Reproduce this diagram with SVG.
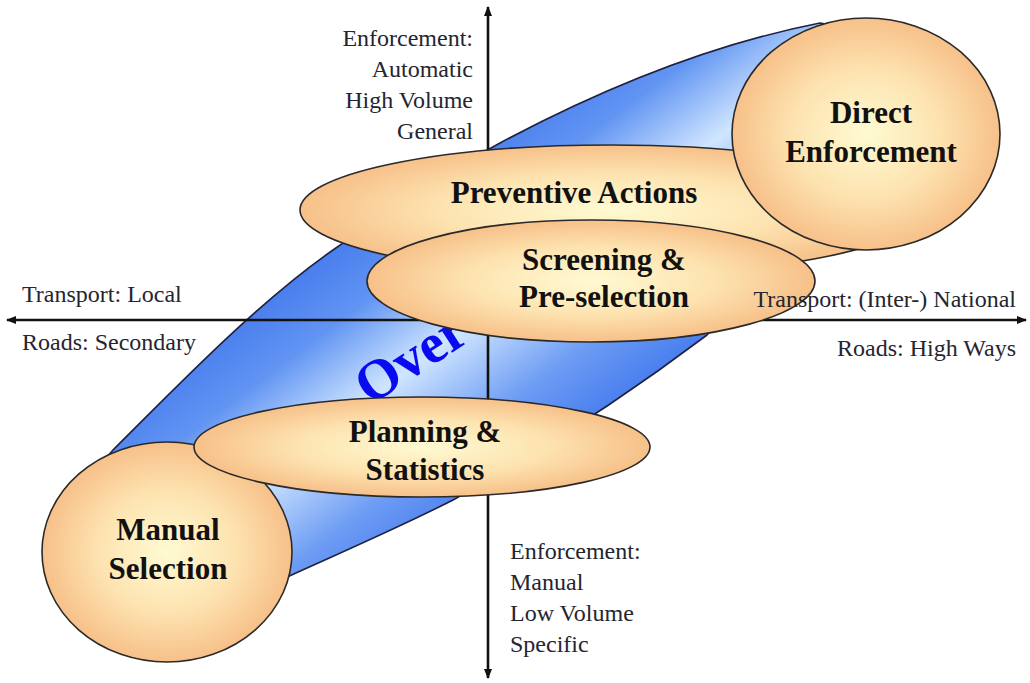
<svg xmlns="http://www.w3.org/2000/svg" width="1030" height="683" viewBox="0 0 1030 683">
  <defs>
    <radialGradient id="orange" cx="0.5" cy="0.5" r="0.5">
      <stop offset="0" stop-color="#fffad2"/>
      <stop offset="0.55" stop-color="#fde3b0"/>
      <stop offset="1" stop-color="#f7c089"/>
    </radialGradient>
    <linearGradient id="blue" gradientUnits="userSpaceOnUse" x1="243" y1="320" x2="417" y2="552">
      <stop offset="0" stop-color="#4a7fee"/>
      <stop offset="0.2" stop-color="#6194f2"/>
      <stop offset="0.48" stop-color="#d0e6ff"/>
      <stop offset="0.78" stop-color="#6d9cf4"/>
      <stop offset="1" stop-color="#4a7fee"/>
    </linearGradient>
    <marker id="arrow" viewBox="0 0 10 8" refX="9" refY="4" markerWidth="10" markerHeight="8" markerUnits="userSpaceOnUse" orient="auto-start-reverse">
      <path d="M0,0 L10,4 L0,8 Z" fill="#111"/>
    </marker>
  </defs>
  <style>
    .node { fill: url(#orange); stroke: #2a2a2a; stroke-width: 1.6; }
    .ntext { font-family: "Liberation Serif", "Times New Roman", serif; font-weight: bold; font-size: 31px; fill: #111; text-anchor: middle; }
    .label { font-family: "Liberation Serif", "Times New Roman", serif; font-size: 24px; fill: #252530; }
    .axis { stroke: #111; stroke-width: 2.6; fill: none; }
  </style>

  <g id="band">
    <path d="M 90,476 L 113,450 C 186,377 260,301 333,250 C 389,211 444,173 500,143 C 607,86 713,44 820,23 L 860,30 L 880,215 L 760,280 L 707,335 C 622,399 538,453 453,500 C 398,528 342,552 287,577 L 250,590 Z" fill="url(#blue)" stroke="#1e2240" stroke-width="1.6"/>
    <text x="370" y="406" transform="rotate(-33 370 406)" font-family="Liberation Serif, serif" font-weight="bold" font-size="56" fill="#0a0af0">Over</text>
  </g>

  <g id="connectors">
    <line class="axis" x1="1026" y1="320" x2="7" y2="320" marker-start="url(#arrow)" marker-end="url(#arrow)"/>
    <line class="axis" x1="488" y1="678" x2="488" y2="7" marker-start="url(#arrow)" marker-end="url(#arrow)"/>
  </g>

  <g id="manual-selection">
    <ellipse class="node" cx="167" cy="552" rx="125" ry="110"/>
    <text class="ntext" x="168" y="540">Manual</text>
    <text class="ntext" x="168" y="579">Selection</text>
  </g>

  <g id="planning-statistics">
    <ellipse class="node" cx="422" cy="447" rx="228" ry="50"/>
    <text class="ntext" x="425" y="442">Planning &amp;</text>
    <text class="ntext" x="425" y="480">Statistics</text>
  </g>

  <g id="preventive-actions">
    <ellipse class="node" cx="610" cy="210" rx="310" ry="65"/>
    <text class="ntext" x="574" y="203">Preventive Actions</text>
  </g>

  <g id="direct-enforcement">
    <ellipse class="node" cx="866" cy="134" rx="134" ry="116"/>
    <text class="ntext" x="871" y="123">Direct</text>
    <text class="ntext" x="871" y="162">Enforcement</text>
  </g>

  <g id="screening-preselection">
    <ellipse class="node" cx="591" cy="281" rx="224" ry="61"/>
    <text class="ntext" x="604" y="270">Screening &amp;</text>
    <text class="ntext" x="604" y="307">Pre-selection</text>
  </g>

  <g id="labels">
    <text class="label" x="473" y="46" text-anchor="end">Enforcement:</text>
    <text class="label" x="473" y="77" text-anchor="end">Automatic</text>
    <text class="label" x="473" y="108" text-anchor="end">High Volume</text>
    <text class="label" x="473" y="139" text-anchor="end">General</text>

    <text class="label" x="510" y="559">Enforcement:</text>
    <text class="label" x="510" y="590">Manual</text>
    <text class="label" x="510" y="621">Low Volume</text>
    <text class="label" x="510" y="652">Specific</text>

    <text class="label" x="22" y="302">Transport: Local</text>
    <text class="label" x="22" y="350">Roads: Secondary</text>

    <text class="label" x="1016" y="307" text-anchor="end">Transport: (Inter-) National</text>
    <text class="label" x="1016" y="356" text-anchor="end">Roads: High Ways</text>
  </g>
</svg>
